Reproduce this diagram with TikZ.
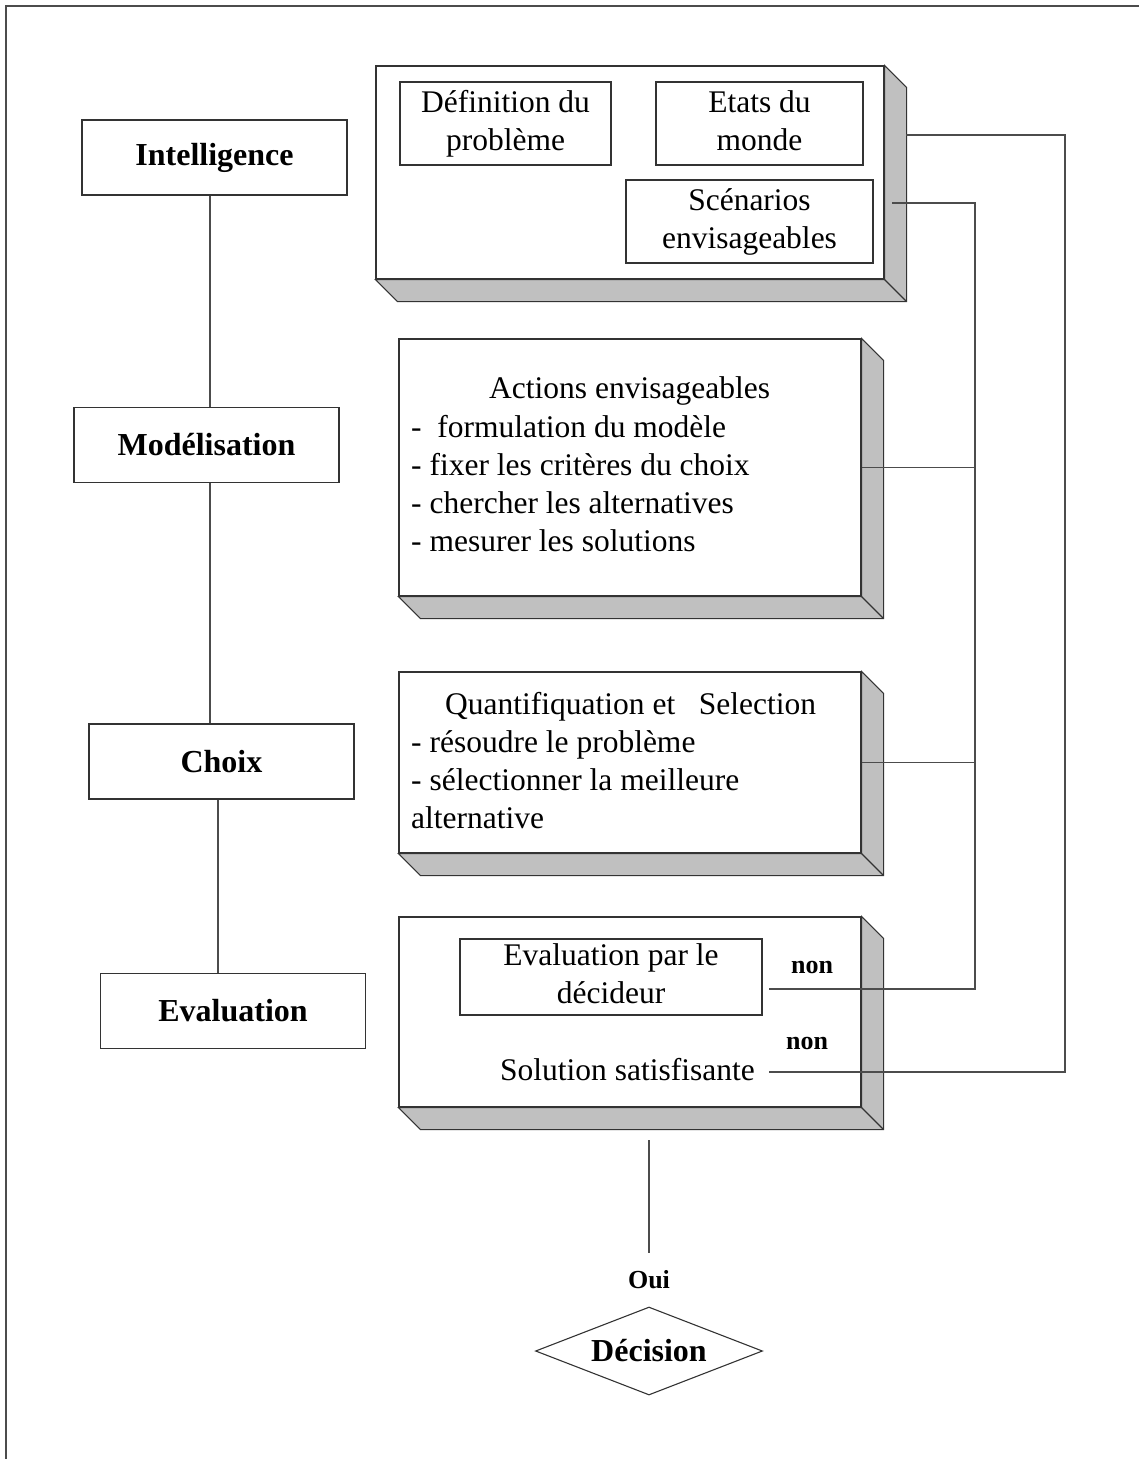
\documentclass[tikz,border=0pt]{standalone}
\usepackage{fontspec}
\setmainfont{Liberation Serif}
\usetikzlibrary{shapes.geometric,calc}
\definecolor{shadegrey}{RGB}{192,192,192}
\newcommand{\bodyfont}{\fontsize{31.5}{38}\selectfont}
\tikzset{
  phase/.style={draw=black!80, line width=1.1pt, fill=white, minimum width=265pt, minimum height=75pt, inner sep=0pt, font=\bfseries\fontsize{32}{38}\selectfont},
  front/.style={draw=black!80, line width=1.1pt, fill=white, inner sep=0pt},
  shadeface/.style={draw=black!80, line width=1.1pt, fill=shadegrey, line join=miter},
  ibox/.style={draw=black!80, line width=1.1pt, inner sep=0pt, align=center, font=\bodyfont},
  txt/.style={inner sep=0pt, anchor=base west, font=\bodyfont},
  lbl/.style={inner sep=0pt, font=\bfseries\fontsize{26}{30}\selectfont},
  conn/.style={draw=black!70, line width=1.1pt},
  frameline/.style={draw=black!70, line width=1.3pt},
}
\newcommand{\threedbox}[5]{%
  \node[front, minimum width=#4pt, minimum height=#5pt] (#1) at (#2,#3) {};
  \filldraw[shadeface] (#1.north east) -- ++(22,22) -- ($(#1.south east)+(22,22)$) -- ($(#1.south west)+(22,22)$) -- (#1.south west) -- (#1.south east) -- cycle;
  \draw[shadeface] (#1.south east) -- ++(22,22);
}
\begin{document}
\begin{tikzpicture}[x=1pt,y=-1pt]
\useasboundingbox (0,0) rectangle (1139,1459);
% frame
\draw[frameline] (6,1459) -- (6,6) -- (1139,6);

% phases (left column)
\node[phase] (intel) at (214.5,157.5) {Intelligence};
\node[phase] (model) at (206.5,445) {Modélisation};
\node[phase] (choix) at (221.5,761.5) {Choix};
\node[phase] (evalb) at (233,1011) {Evaluation};
\coordinate (colA) at (210,0);
\coordinate (colB) at (218,0);
\draw[conn] (intel.south -| colA) -- (model.north -| colA);
\draw[conn] (model.south -| colA) -- (choix.north -| colA);
\draw[conn] (choix.south -| colB) -- (evalb.north -| colB);

% 3D boxes (right column)
\threedbox{b1}{630}{172.5}{508}{213}
\threedbox{b2}{630}{467.5}{462}{257}
\threedbox{b3}{630}{762.5}{462}{181}
\threedbox{b4}{630}{1012}{462}{190}

% box 1 content
\node[ibox, minimum width=211pt, minimum height=83pt] (def) at (505.5,123.5) {\strut Définition du\\problème\strut};
\node[ibox, minimum width=207pt, minimum height=83pt] (etat) at (759.5,123.5) {\strut Etats du\\monde\strut};
\node[ibox, minimum width=247pt, minimum height=83pt] (scen) at (749.5,221.5) {\strut Scénarios\\envisageables\strut};

% box 2 content
\node[txt] (a1) at (489,398) {Actions envisageables};
\node[txt] (a2) at (411,437) {-\ \ formulation du modèle};
\node[txt] (a3) at (411,475) {- fixer les critères du choix};
\node[txt] (a4) at (411,513) {- chercher les alternatives};
\node[txt] (a5) at (411,551) {- mesurer les solutions};

% box 3 content
\node[txt] (q1) at (445,714) {Quantifiquation et\ \ \ Selection};
\node[txt] (q2) at (411,752) {- résoudre le problème};
\node[txt] (q3) at (411,790) {- sélectionner la meilleure};
\node[txt] (q4) at (411,828) {alternative};

% box 4 content
\node[ibox, minimum width=302pt, minimum height=76pt] (evd) at (611,977) {\strut Evaluation par le\\décideur\strut};
\node[txt] (sol) at (500,1080) {Solution satisfisante};
\node[lbl] (non1) at (812,967) {non};
\node[lbl] (non2) at (807,1043) {non};

% feedback connectors
\coordinate (busM) at (975,0);
\coordinate (busR) at (1065,0);
\coordinate (b1out) at (906,135);
\coordinate (scenout) at (892,203);
\coordinate (evdend) at (769,989);
\coordinate (solend) at (769,1072);
\draw[conn] (b1out) -- (b1out -| busR) -- (busR |- solend) -- (solend);
\draw[conn] (scenout) -- (scenout -| busM) -- (busM |- evdend) -- (evdend);
\draw[conn] (b2.east) -- (b2.east -| busM);
\draw[conn] (b3.east) -- (b3.east -| busM);

% decision
\coordinate (ouitop) at (649,1140);
\coordinate (ouibot) at (649,1253);
\draw[conn] (ouitop) -- (ouibot);
\node[lbl] (oui) at (649,1280) {Oui};
\node[diamond, draw=black!80, line width=1.1pt, inner sep=0pt, aspect=2.58, minimum width=227pt, minimum height=88pt, font=\bfseries\fontsize{32}{38}\selectfont] (dec) at (649,1351) {Décision};
\end{tikzpicture}
\end{document}
